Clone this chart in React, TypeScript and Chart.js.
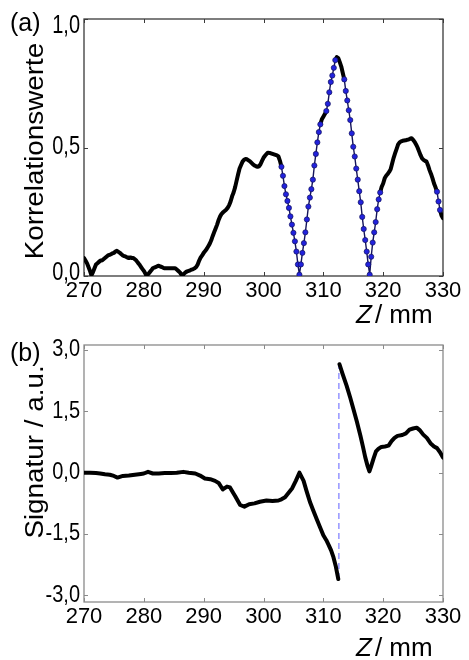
import { useEffect, useRef } from 'react';
import { Chart, registerables } from 'chart.js';
Chart.register(...registerables);

const FONT = '"Liberation Sans", Arial, Helvetica, sans-serif';

// ---------- DATA ----------
// Panel (a): Korrelationswerte, sampled every 0.25 mm from 270 to 330 mm
const zStart = 270;
const zStep = 0.25;
const korrelation = [
  0.07, 0.06, 0.05, 0.035,
  0.02, 0.003, 0.015, 0.03,
  0.045, 0.05, 0.055, 0.06,
  0.06, 0.065, 0.07, 0.075,
  0.08, 0.082, 0.085, 0.088,
  0.09, 0.095, 0.098, 0.094,
  0.09, 0.085, 0.08, 0.077,
  0.075, 0.072, 0.07, 0.072,
  0.07, 0.07, 0.065, 0.06,
  0.052, 0.045, 0.036, 0.028,
  0.02, 0.01, 0.0, 0.008,
  0.015, 0.022, 0.03, 0.033,
  0.035, 0.038, 0.04, 0.037,
  0.035, 0.032, 0.03, 0.03,
  0.03, 0.03, 0.03, 0.03,
  0.03, 0.03, 0.025, 0.02,
  0.015, 0.006, 0.002, 0.01,
  0.015, 0.018, 0.02, 0.022,
  0.025, 0.027, 0.03, 0.035,
  0.045, 0.06, 0.072, 0.08,
  0.09, 0.097, 0.105, 0.115,
  0.125, 0.138, 0.155, 0.17,
  0.185, 0.2, 0.218, 0.232,
  0.242, 0.248, 0.253, 0.258,
  0.265, 0.275, 0.29, 0.31,
  0.325, 0.345, 0.37, 0.395,
  0.418, 0.432, 0.445, 0.452,
  0.455, 0.454, 0.45, 0.446,
  0.44, 0.434, 0.43, 0.427,
  0.425, 0.427, 0.435, 0.448,
  0.46, 0.468, 0.475, 0.48,
  0.479, 0.477, 0.475, 0.473,
  0.471, 0.469, 0.465, 0.448,
  0.425, 0.39, 0.35, 0.318,
  0.292, 0.265, 0.232, 0.2,
  0.168, 0.135, 0.095, 0.045,
  0.005, 0.045, 0.09, 0.128,
  0.17, 0.22, 0.27, 0.305,
  0.338, 0.375, 0.43, 0.475,
  0.52, 0.56, 0.59, 0.61,
  0.62, 0.63, 0.642, 0.67,
  0.715, 0.755, 0.78, 0.81,
  0.84, 0.852, 0.848, 0.832,
  0.815, 0.79, 0.765, 0.72,
  0.683, 0.645, 0.607, 0.555,
  0.503, 0.465, 0.418, 0.375,
  0.33, 0.287, 0.23, 0.183,
  0.14, 0.095, 0.045, 0.005,
  0.075, 0.13, 0.17, 0.21,
  0.26, 0.298, 0.325, 0.347,
  0.36, 0.38, 0.39, 0.397,
  0.405, 0.415, 0.438, 0.46,
  0.478, 0.495, 0.512, 0.52,
  0.524, 0.526, 0.527, 0.528,
  0.53, 0.531, 0.534, 0.536,
  0.53, 0.522, 0.512, 0.5,
  0.485, 0.47, 0.458, 0.452,
  0.448, 0.445, 0.43, 0.412,
  0.397, 0.38, 0.36, 0.345,
  0.328, 0.29, 0.257, 0.235,
  0.225,
];
const zKorrelation = korrelation.map((_, i) => zStart + i * zStep);

// Panel (b): Signatur, left branch (before the jump) and right branch (after the jump)
const zSignalLeft = [
  270.0, 271.0, 272.0, 272.7, 273.5, 274.3, 275.0, 275.6, 276.5, 277.5,
  278.5, 279.5, 280.0, 280.7, 281.5, 282.5, 283.5, 284.5, 285.5, 286.6,
  287.5, 288.6, 289.4, 290.2, 291.1, 291.9, 292.5, 293.2, 293.9, 294.4,
  295.3, 296.1, 296.8, 297.6, 298.5, 299.4, 300.5, 301.5, 302.5, 303.0,
  303.6, 304.2, 304.8, 305.4, 306.0, 306.7, 307.2, 307.8, 308.3, 308.9,
  309.5, 310.0, 310.5, 310.9, 311.3, 311.7, 312.1, 312.5,
];
const signalLeft = [
  0.0, 0.0, -0.01, -0.02, -0.04, -0.05, -0.08, -0.12, -0.08, -0.07,
  -0.05, -0.03, -0.02, 0.02, -0.02, -0.02, -0.01, -0.01, 0.0, 0.02,
  0.0, -0.02, -0.07, -0.14, -0.16, -0.2, -0.25, -0.41, -0.34, -0.36,
  -0.58, -0.79, -0.83, -0.77, -0.75, -0.71, -0.68, -0.69, -0.68, -0.65,
  -0.6, -0.49, -0.38, -0.2, 0.0, -0.2, -0.45, -0.73, -0.92, -1.14,
  -1.35, -1.53, -1.65, -1.77, -1.9, -2.07, -2.3, -2.6,
];
const zSignalRight = [
  312.7, 313.2, 313.9, 314.5, 315.0, 315.6, 316.2, 316.6, 317.0, 317.4,
  317.7, 318.0, 318.4, 318.8, 319.2, 319.7, 320.3, 320.9, 321.4, 321.9,
  322.4, 323.2, 323.8, 324.4, 325.0, 325.6, 326.1, 326.7, 327.3, 327.9,
  328.5, 329.0, 329.5, 330.0,
];
const signalRight = [
  2.65, 2.42, 2.12, 1.83, 1.57, 1.25, 0.9, 0.65, 0.38, 0.16,
  0.03, 0.16, 0.35, 0.52, 0.58, 0.63, 0.64, 0.66, 0.77, 0.85,
  0.9, 0.92, 0.96, 1.05, 1.08, 1.1, 1.04, 0.93, 0.85, 0.72,
  0.64, 0.6, 0.5, 0.37,
];
const jumpZ = 312.6;

const xTicks = [270, 280, 290, 300, 310, 320, 330];
const yTicksA = [0, 0.5, 1.0];
const yTicksB = [-3, -1.5, 0, 1.5, 3];

const yTitleA = 'Korrelationswerte';
const yTitleB = 'Signatur / a.u.';

// ---------- HELPERS ----------
const fmt = (v: number) => v.toFixed(1).replace('.', ',');

function framePlugin(o: any) {
  return {
    id: 'frame',
    beforeDatasetsDraw(chart: any) {
      const { ctx, chartArea: a, scales } = chart;
      const xs = scales.x;
      const ys = scales.y;
      ctx.save();
      ctx.strokeStyle = o.boxColor;
      ctx.lineWidth = 1.3;
      ctx.strokeRect(a.left, a.top, a.right - a.left, a.bottom - a.top);
      ctx.beginPath();
      o.xTicks.forEach((v: number) => {
        const px = Math.round(xs.getPixelForValue(v)) + 0.5;
        ctx.moveTo(px, a.bottom);
        ctx.lineTo(px, a.bottom - 4);
        ctx.moveTo(px, a.top);
        ctx.lineTo(px, a.top + 4);
      });
      o.yTicks.forEach((v: number) => {
        const py = Math.round(ys.getPixelForValue(v)) + 0.5;
        ctx.moveTo(a.left, py);
        ctx.lineTo(a.left + 4, py);
        ctx.moveTo(a.right, py);
        ctx.lineTo(a.right - 4, py);
      });
      ctx.lineWidth = 1;
      ctx.stroke();
      ctx.restore();
    },
    afterDraw(chart: any) {
      const { ctx, chartArea: a, scales } = chart;
      const xs = scales.x;
      const ys = scales.y;
      ctx.save();
      ctx.fillStyle = '#000';
      ctx.font = `22px ${FONT}`;
      ctx.textAlign = 'center';
      ctx.textBaseline = 'middle';
      o.xTicks.forEach((v: number) => {
        ctx.fillText(String(v), xs.getPixelForValue(v), a.bottom + 15);
      });
      ctx.font = `20px ${FONT}`;
      ctx.textAlign = 'right';
      o.yTicks.forEach((v: number) => {
        let py = ys.getPixelForValue(v);
        py = Math.min(Math.max(py, a.top + o.yLabelTopMin), a.bottom - 3);
        ctx.save();
        ctx.translate(a.left - 4, py);
        ctx.scale(1, o.yLabelStretch);
        ctx.fillText(fmt(v), 0, 0);
        ctx.restore();
      });
      // y title (slightly elongated along its length, as in the original)
      ctx.save();
      ctx.translate(o.titleX, o.titleY);
      ctx.rotate(-Math.PI / 2);
      ctx.scale(1.05, 1);
      ctx.font = `26.5px ${FONT}`;
      ctx.textAlign = 'center';
      ctx.textBaseline = 'middle';
      ctx.fillText(o.yTitle, 0, 0);
      ctx.restore();
      // panel letter
      ctx.textAlign = 'left';
      ctx.textBaseline = 'alphabetic';
      ctx.font = `25px ${FONT}`;
      ctx.fillText(o.panel, 10, 31);
      // axis title Z / mm
      ctx.font = `italic 26px ${FONT}`;
      ctx.fillText('Z', o.zX, o.zY);
      const w = ctx.measureText('Z').width;
      ctx.font = `26px ${FONT}`;
      ctx.fillText('/ mm', o.zX + w + 3, o.zY);
      ctx.restore();
    },
  };
}

// steepness flags (styling only): dots appear where the curve is steep
function steepFlags(z: number[], v: number[], thr: number) {
  return v.map((_, i) => {
    const l = i > 0 ? Math.abs(v[i] - v[i - 1]) / (z[i] - z[i - 1]) : 0;
    const r = i < v.length - 1 ? Math.abs(v[i + 1] - v[i]) / (z[i + 1] - z[i]) : 0;
    return Math.max(l, r) > thr;
  });
}

export default function App() {
  const topRef = useRef<HTMLCanvasElement>(null);
  const botRef = useRef<HTMLCanvasElement>(null);

  useEffect(() => {
    const steep = steepFlags(zKorrelation, korrelation, 0.105);
    const top = new Chart(topRef.current as HTMLCanvasElement, {
      type: 'line',
      data: {
        datasets: [
          {
            data: zKorrelation.map((z, i) => ({ x: z, y: korrelation[i] })),
            borderColor: '#000',
            borderWidth: 4,
            borderJoinStyle: 'round',
            borderCapStyle: 'round',
            tension: 0,
            fill: false,
            segment: {
              borderWidth: (c: any) => (steep[c.p0DataIndex] && steep[c.p1DataIndex] ? 1.4 : 4),
              borderColor: (c: any) => (steep[c.p0DataIndex] && steep[c.p1DataIndex] ? '#14145a' : '#000'),
            },
            pointRadius: (c: any) => (steep[c.dataIndex] ? 2.6 : 0),
            pointBackgroundColor: '#2222dd',
            pointBorderColor: '#12125a',
            pointBorderWidth: 0.7,
          } as any,
        ],
      },
      options: {
        responsive: false,
        animation: false,
        events: [],
        layout: { padding: { left: 84, right: 26, top: 19, bottom: 54 } },
        plugins: { legend: { display: false }, tooltip: { enabled: false } },
        scales: {
          x: { type: 'linear', min: 270, max: 330, display: false },
          y: { type: 'linear', min: 0, max: 1, display: false },
        },
      },
      plugins: [
        framePlugin({
          xTicks,
          yTicks: yTicksA,
          boxColor: '#3a3a3a',
          yTitle: yTitleA,
          titleX: 36,
          titleY: 151,
          panel: '(a)',
          zX: 356,
          zY: 323,
          yLabelTopMin: 7,
          yLabelStretch: 1.25,
        }),
      ],
    } as any);

    const bottom = new Chart(botRef.current as HTMLCanvasElement, {
      type: 'line',
      data: {
        datasets: [
          {
            data: zSignalLeft.map((z, i) => ({ x: z, y: signalLeft[i] })),
            borderColor: '#000',
            borderWidth: 4,
            borderJoinStyle: 'round',
            borderCapStyle: 'round',
            pointRadius: 0,
            tension: 0,
            fill: false,
          },
          {
            data: zSignalRight.map((z, i) => ({ x: z, y: signalRight[i] })),
            borderColor: '#000',
            borderWidth: 4,
            borderJoinStyle: 'round',
            borderCapStyle: 'round',
            pointRadius: 0,
            tension: 0,
            fill: false,
          },
          {
            data: [
              { x: jumpZ, y: signalLeft[signalLeft.length - 1] },
              { x: jumpZ, y: signalRight[0] },
            ],
            borderColor: '#7a7aff',
            borderWidth: 1.2,
            borderDash: [6, 4],
            pointRadius: 0,
            tension: 0,
            fill: false,
          },
        ],
      },
      options: {
        responsive: false,
        animation: false,
        events: [],
        layout: { padding: { left: 84, right: 26, top: 15, bottom: 58 } },
        plugins: { legend: { display: false }, tooltip: { enabled: false } },
        scales: {
          x: { type: 'linear', min: 270, max: 330, display: false },
          y: { type: 'linear', min: -3.16, max: 3.12, display: false },
        },
      },
      plugins: [
        framePlugin({
          xTicks,
          yTicks: yTicksB,
          boxColor: '#8a8a8a',
          yTitle: yTitleB,
          titleX: 36,
          titleY: 122,
          panel: '(b)',
          zX: 356,
          zY: 326,
          yLabelTopMin: 5,
          yLabelStretch: 1.15,
        }),
      ],
    } as any);

    return () => {
      top.destroy();
      bottom.destroy();
    };
  }, []);

  return (
    <div style={{ position: 'absolute', left: 0, top: 0, width: 469, height: 660, background: '#fff' }}>
      <canvas ref={topRef} width={469} height={330} style={{ display: 'block' }} />
      <canvas ref={botRef} width={469} height={330} style={{ display: 'block' }} />
    </div>
  );
}
